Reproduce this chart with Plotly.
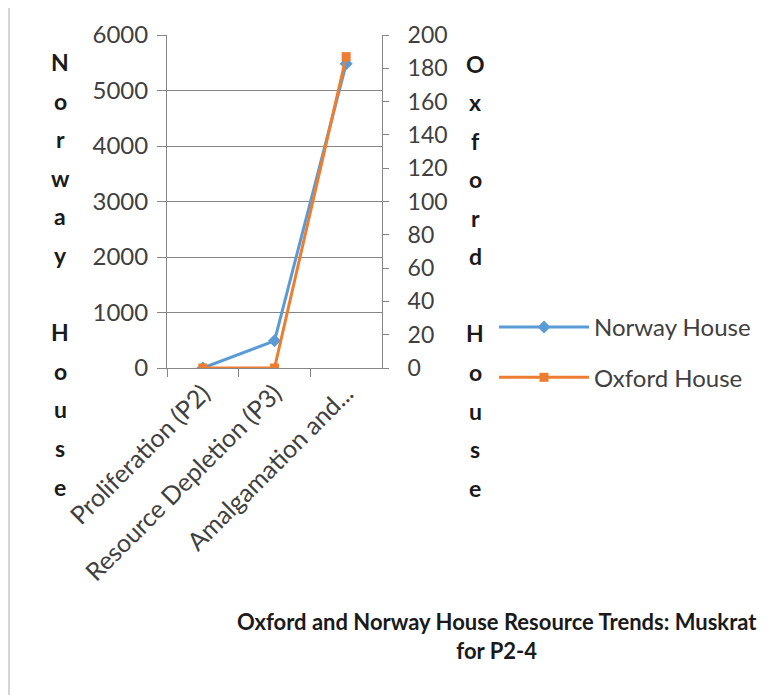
import plotly.graph_objects as go

categories = ['Proliferation (P2)', 'Resource Depletion (P3)', 'Amalgamation and...']
norway_house = [0, 490, 5480]
oxford_house = [0, 0, 187]

left_title = 'Norway House'
right_title = 'Oxford House'
chart_title = 'Oxford and Norway House Resource Trends: Muskrat<br>for P2-4'

# the page body has an 8px margin, so the figure is 8px smaller and everything is shifted
OFF = 8
W, H = 772 - OFF, 695 - OFF
FONT = 'Lato'
TXT = '#404040'
AXIS = '#868686'


def px(x):
    return (x - OFF) / W


def py(y):
    return 1 - (y - OFF) / H


fig = go.Figure()

fig.add_trace(go.Scatter(
    x=categories, y=norway_house, name='Norway House', legendgroup='nh',
    mode='lines+markers',
    line=dict(color='#5b9bd5', width=3),
    marker=dict(symbol='diamond', size=10, color='#5b9bd5'),
))
fig.add_trace(go.Scatter(
    x=categories, y=oxford_house, name='Oxford House', legendgroup='oh', yaxis='y2',
    mode='lines+markers',
    line=dict(color='#ed7d31', width=3),
    marker=dict(symbol='square', size=9, color='#ed7d31'),
))


def label(x, y, text, size):
    return dict(x=px(x), y=py(y), text=text, xref='paper', yref='paper',
                xanchor='center', yanchor='middle', showarrow=False,
                font=dict(family=FONT, size=size, color='#1a1a1a'))


# stacked one-letter axis titles, as in the original
annotations = []
for i, ch in enumerate(left_title):
    if ch != ' ':
        annotations.append(label(60, 62 + i * 38.6, '<b>%s</b>' % ch, 23))
for i, ch in enumerate(right_title):
    if ch != ' ':
        annotations.append(label(475, 64 + i * 38.5, '<b>%s</b>' % ch, 23))
annotations.append(label(497, 636, '<b>%s</b>' % chart_title, 22))

fig.update_layout(
    template='none',
    width=W, height=H,
    margin=dict(l=0, r=0, t=0, b=0, autoexpand=False),
    paper_bgcolor='white', plot_bgcolor='white',
    font=dict(family=FONT, size=24, color=TXT),
    annotations=annotations,
    shapes=[
        dict(type='line', xref='paper', yref='paper', x0=px(8), x1=1, y0=py(7), y1=py(7),
             line=dict(color='#c8c8c8', width=1.5)),
        dict(type='line', xref='paper', yref='paper', x0=px(9), x1=px(9), y0=py(7), y1=0,
             line=dict(color='#c8c8c8', width=1.5)),
    ],
    xaxis=dict(
        domain=[px(167), px(382)], type='category', range=[-0.5, 2.5], automargin=False,
        tickson='boundaries', ticks='outside', ticklen=8, tickcolor=AXIS,
        showline=True, linecolor=AXIS, showgrid=False, tickangle=-45,
        tickfont=dict(size=25, color=TXT),
    ),
    yaxis=dict(
        domain=[py(368), py(35)], range=[0, 6000], dtick=1000, automargin=False,
        ticks='outside', ticklen=9, tickcolor=AXIS, showline=True, linecolor=AXIS,
        showgrid=True, gridcolor=AXIS, gridwidth=1, zeroline=False,
        tickfont=dict(size=24, color=TXT), ticklabelstandoff=4,
    ),
    yaxis2=dict(
        overlaying='y', side='right', anchor='x', range=[0, 200], dtick=20, automargin=False,
        ticks='outside', ticklen=6, tickcolor=AXIS, showline=True, linecolor=AXIS,
        showgrid=False, zeroline=False,
        tickfont=dict(size=23, color=TXT), ticklabelstandoff=14,
    ),
    legend=dict(
        x=px(494), y=py(305), xanchor='left', yanchor='top', itemwidth=90,
        font=dict(size=24, color=TXT), tracegroupgap=16, bgcolor='rgba(0,0,0,0)',
    ),
)

fig.write_html('out.html')
